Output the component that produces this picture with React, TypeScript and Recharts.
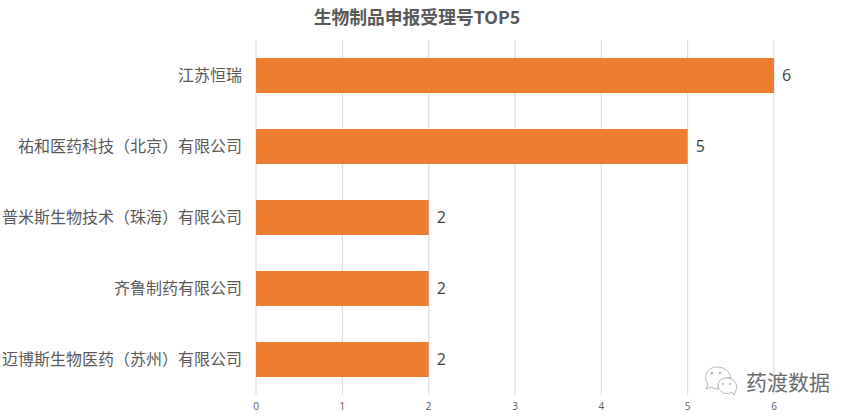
import { BarChart, Bar, XAxis, YAxis, CartesianGrid, LabelList } from 'recharts';

const CJK = '"Noto Sans CJK SC", sans-serif';

const companies = [
  '江苏恒瑞',
  '祐和医药科技（北京）有限公司',
  '普米斯生物技术（珠海）有限公司',
  '齐鲁制药有限公司',
  '迈博斯生物医药（苏州）有限公司',
];
const counts = [6, 5, 2, 2, 2];
const xTicks = [0, 1, 2, 3, 4, 5, 6];

const data = companies.map((name, i) => ({ name, count: counts[i] }));

function WeChatMark() {
  return (
    <svg width={36} height={32} style={{ position: 'absolute', left: 703, top: 366 }}>
      <g fill="#fff" stroke="#b5b5b5" strokeWidth={1}>
        <path d="M3 23 L5 18 C-1 10 5 1 14 1 C22 1 27 6 28 12 C20 11 14 17 15 23 C12 23 10 22 8 21 Z" />
        <path d="M31 29 L29 26 C26 28 22 28 19 26 C13 22 14 13 22 12 C30 11 36 18 33 24 Z" />
      </g>
      <g fill="#b5b5b5">
        <circle cx={9} cy={7} r={1.3} />
        <circle cx={17} cy={7} r={1.3} />
        <circle cx={20} cy={18} r={1.1} />
        <circle cx={27} cy={18} r={1.1} />
      </g>
    </svg>
  );
}

export default function App() {
  return (
    <div style={{ position: 'absolute', left: 0, top: 0, width: 857, height: 420, background: '#fff', overflow: 'hidden' }}>
      <div
        style={{
          position: 'absolute',
          left: 0,
          top: 4,
          width: 834,
          textAlign: 'center',
          fontFamily: CJK,
          fontSize: 17.8,
          fontWeight: 700,
          lineHeight: '24px',
          color: '#595959',
        }}
      >
        生物制品申报受理号TOP5
      </div>
      <BarChart
        width={857}
        height={420}
        layout="vertical"
        data={data}
        barSize={35}
        margin={{ top: 40, right: 83, bottom: 0, left: 0 }}
      >
        <CartesianGrid horizontal={false} stroke="#d9d9d9" strokeWidth={1} />
        <XAxis
          type="number"
          domain={[0, 6]}
          ticks={xTicks}
          height={25}
          axisLine={false}
          tickLine={false}
          tickMargin={2}
          tick={{ fill: '#595959', fontSize: 10, fontFamily: '"Open Sans", sans-serif' }}
        />
        <YAxis
          type="category"
          dataKey="name"
          width={256}
          interval={0}
          axisLine={false}
          tickLine={false}
          tickMargin={8}
          tick={{ fill: '#595959', fontSize: 16, fontFamily: CJK, width: 400 }}
        />
        <Bar dataKey="count" fill="#ed7d31" isAnimationActive={false}>
          <LabelList
            dataKey="count"
            position="right"
            offset={8}
            style={{ fill: '#404040', fontSize: 16, fontFamily: '"Open Sans", sans-serif' }}
          />
        </Bar>
      </BarChart>
      <WeChatMark />
      <div
        style={{
          position: 'absolute',
          left: 746,
          top: 367,
          fontFamily: CJK,
          fontSize: 21,
          lineHeight: '28px',
          color: '#6b6b6b',
          whiteSpace: 'nowrap',
        }}
      >
        药渡数据
      </div>
    </div>
  );
}
